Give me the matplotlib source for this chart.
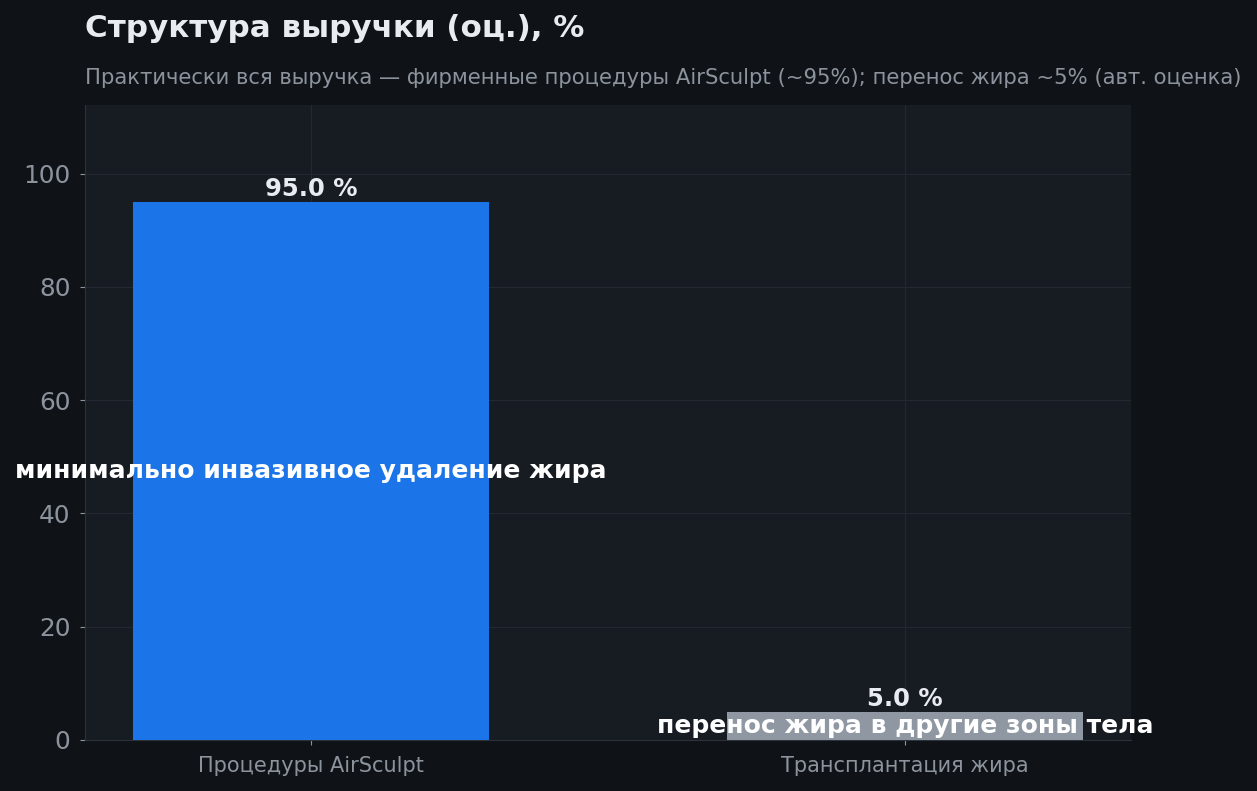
#!/usr/bin/env python3
"""Revenue structure bar chart (estimated), dark theme."""

import matplotlib
matplotlib.use('Agg')
import matplotlib.pyplot as plt
import numpy as np

# data
categories = ['Процедуры AirSculpt', 'Трансплантация жира']
shares = [95.0, 5.0]
inner_labels = ['минимально инвазивное удаление жира', 'перенос жира в другие зоны тела']
bar_colors = ['#1b75e8', '#8e97a2']

title = 'Структура выручки (оц.), %'
subtitle = 'Практически вся выручка — фирменные процедуры AirSculpt (~95%); перенос жира ~5% (авт. оценка)'

FIG_BG = '#0f1317'
AX_BG = '#171b22'
GRID = '#232833'
TEXT = '#e8ebf0'
MUTED = '#8c939d'

plt.rcParams['font.family'] = ['DejaVu Sans']

fig = plt.figure(figsize=(12.57, 7.91), dpi=100, facecolor=FIG_BG)
ax = fig.add_axes([0.0676, 0.0645, 0.8322, 0.8028])
ax.set_facecolor(AX_BG)

x = np.arange(len(categories))
bars = ax.bar(x, shares, width=0.6, color=bar_colors, zorder=3)

ax.set_xlim(-0.38, 1.38)
ax.set_ylim(0, max(shares) * 1.18)

# value labels on top
for bar, val in zip(bars, shares):
    ax.annotate(f'{val:.1f} %', (bar.get_x() + bar.get_width() / 2, bar.get_height()),
                xytext=(0, 0.5), textcoords='offset points', ha='center', va='bottom',
                fontsize=17.5, fontweight='bold', color=TEXT, zorder=5)

# description inside bars
for bar, lab in zip(bars, inner_labels):
    ax.text(bar.get_x() + bar.get_width() / 2, bar.get_height() / 2, lab,
            ha='center', va='center', fontsize=18, fontweight='bold', color='white', zorder=5)

ax.set_xticks(x)
ax.set_xticklabels(categories, fontsize=15, color=MUTED)
ax.tick_params(axis='y', labelsize=17.8, labelcolor=MUTED, color=MUTED, pad=7)
ax.tick_params(axis='x', color=MUTED, pad=8)
ax.set_yticks([0, 20, 40, 60, 80, 100])

ax.grid(True, color=GRID, linewidth=0.8, zorder=0)
for side in ['top', 'right']:
    ax.spines[side].set_visible(False)
for side in ['left', 'bottom']:
    ax.spines[side].set_color('#2c323c')

fig.text(0.0676, 0.964, title, ha='left', va='center', fontsize=22.3, fontweight='bold', color=TEXT)
fig.text(0.0676, 0.902, subtitle, ha='left', va='center', fontsize=15.2, color=MUTED)

plt.savefig('out.png', dpi=100, facecolor=FIG_BG)
